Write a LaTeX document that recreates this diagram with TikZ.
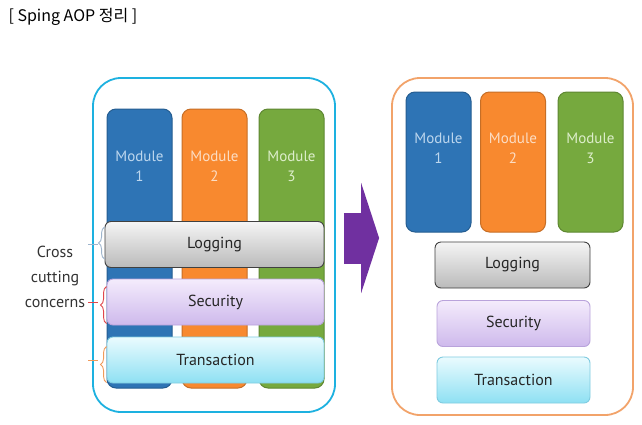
\documentclass[tikz,border=0pt]{standalone}
\usepackage{fontspec}
\setmainfont{PT Sans}
\newfontfamily\krfont{Noto Sans CJK KR}
\usetikzlibrary{arrows.meta,decorations.pathreplacing,positioning}

\definecolor{boxcyan}{HTML}{1DB1E0}
\definecolor{boxorange}{HTML}{F2A36A}
\definecolor{modblue}{HTML}{2E74B5}
\definecolor{modorange}{HTML}{F8892F}
\definecolor{modgreen}{HTML}{76A93E}
\definecolor{textblue}{HTML}{BDD7EE}
\definecolor{textorange}{HTML}{FCDDC4}
\definecolor{textgreen}{HTML}{DDEECB}
\definecolor{aoppurple}{HTML}{7030A0}

\tikzset{
    container/.style={draw, line width=1.8pt, fill=white, rounded corners=28pt, inner sep=0pt},
    module/.style={draw=#1!80!black, fill=#1, line width=1pt, rounded corners=9pt,
        minimum width=65pt, inner sep=0pt},
    modtext/.style={align=center, font=\fontsize{15}{20}\selectfont},
    bar/.style={draw, line width=0.9pt, rounded corners=6pt, minimum height=46pt,
        inner sep=0pt, text=black!85, font=\fontsize{16}{18}\selectfont},
    logbar/.style={bar, draw=black!75, top color=black!4, bottom color=black!27},
    secbar/.style={bar, draw={rgb,255:red,185;green,163;blue,219}, top color={rgb,255:red,244;green,236;blue,252}, bottom color={rgb,255:red,206;green,185;blue,236}},
    trabar/.style={bar, draw={rgb,255:red,127;green,203;blue,224}, top color={rgb,255:red,234;green,251;blue,254}, bottom color={rgb,255:red,142;green,224;blue,243}},
    concern/.style={decorate, decoration={brace, amplitude=6pt}, line width=0.9pt},
    bigarrow/.style={line width=51pt, aoppurple, -{Triangle[length=18pt, width=110pt]}},
}

\begin{document}
\begin{tikzpicture}[x=1pt, y=-1pt]

    \fill[white] (0,0) rectangle (642,424);
    \useasboundingbox (0,0) rectangle (642,424);

    %title
    \node[anchor=west, font=\krfont\fontsize{16}{18}\selectfont] (title) at (5,17) {[ Sping AOP 정리 ]};

    %containers
    \node[container, draw=boxcyan, minimum width=242pt, minimum height=334pt] (lbox) at (214,245) {};
    \node[container, draw=boxorange, minimum width=241pt, minimum height=337pt] (rbox) at (512.5,246.5) {};

    %modules
    \foreach \i/\x/\c/\t in {1/139.5/modblue/textblue, 2/214.5/modorange/textorange, 3/291.5/modgreen/textgreen} {
        \node[module=\c, minimum height=279pt] (lmod\i) at (\x,248.5) {};
        \path (lmod\i.north) ++(0,58) node[modtext, text=\t] (lmodtext\i) {Module\\\i};
    }
    \foreach \i/\x/\c/\t in {1/438.5/modblue/textblue, 2/513/modorange/textorange, 3/590.5/modgreen/textgreen} {
        \node[module=\c, minimum height=140pt] (rmod\i) at (\x,162) {};
        \path (rmod\i.north) ++(0,57) node[modtext, text=\t] (rmodtext\i) {Module\\\i};
    }

    %concerns
    \node[logbar, minimum width=219pt] (llog) at (214.5,244.5) {Logging};
    \node[secbar, minimum width=217pt] (lsec) at (215.5,302) {Security};
    \node[trabar, minimum width=217pt] (ltra) at (215.5,360) {Transaction};

    \node[logbar, minimum width=155pt] (rlog) at (512.5,265) {Logging};
    \node[secbar, minimum width=153pt] (rsec) at (513.5,323.5) {Security};
    \node[trabar, minimum width=153pt] (rtra) at (513.5,380) {Transaction};

    %braces
    \draw[concern, draw={rgb,255:red,157;green,180;blue,204}] ([yshift=9pt]llog.south west) -- ([yshift=-6pt]llog.north west);
    \draw[concern, draw={rgb,255:red,224;green,71;blue,76}] ([yshift=2pt]lsec.south west) -- ([yshift=-8pt]lsec.north west);
    \draw[concern, draw={rgb,255:red,240;green,154;blue,90}] ([yshift=1pt]ltra.south west) -- ([yshift=-10pt]ltra.north west);
    \draw[line width=0.9pt, draw={rgb,255:red,157;green,180;blue,204}] ([xshift=-7pt]llog.west) -- ([xshift=-17pt]llog.west);
    \draw[line width=0.9pt, draw={rgb,255:red,224;green,71;blue,76}] ([xshift=-9pt]lsec.west) -- ([xshift=-19pt]lsec.west);
    \draw[line width=0.9pt, draw={rgb,255:red,240;green,154;blue,90}] ([xshift=-9pt]ltra.west) -- ([xshift=-19pt]ltra.west);

    \node[align=center, text=black!80, font=\fontsize{16}{25}\selectfont] (cross) at (55,277) {Cross\\cutting\\concerns};

    %arrow
    \coordinate (tail) at ([yshift=7pt]lbox.east);
    \draw[bigarrow, shorten <=8pt, shorten >=12pt] (tail) -- (tail -| rbox.west);

\end{tikzpicture}
\end{document}
